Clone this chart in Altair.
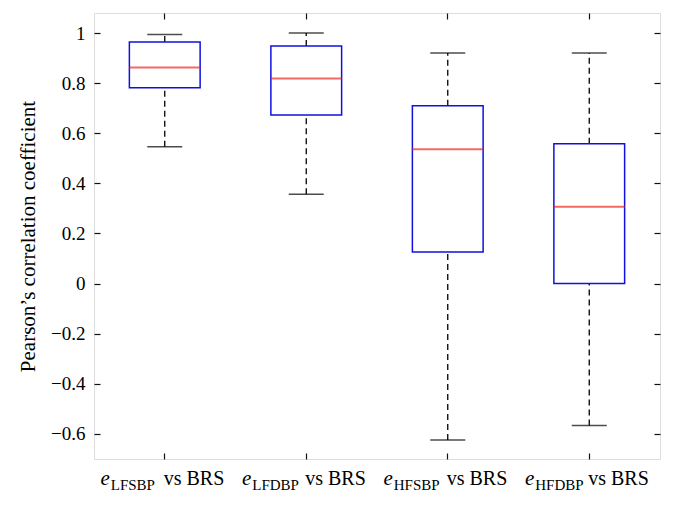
import altair as alt
import pandas as pd

# ---- data ----
categories = ["LFSBP", "LFDBP", "HFSBP", "HFDBP"]
whisker_low = [0.546, 0.357, -0.624, -0.566]
q1 = [0.782, 0.673, 0.126, 0.0]
median = [0.862, 0.819, 0.536, 0.307]
q3 = [0.964, 0.948, 0.710, 0.558]
whisker_high = [0.994, 1.0, 0.920, 0.920]
y_ticks = [-0.6, -0.4, -0.2, 0, 0.2, 0.4, 0.6, 0.8, 1]

df = pd.DataFrame({
    "cat": categories,
    "lo": whisker_low,
    "q1": q1,
    "med": median,
    "q3": q3,
    "hi": whisker_high,
})

W, H = 566, 446
FONT = "Liberation Serif"
BLUE = "#1010e0"
RED = "#ee2a22"

xscale = alt.Scale(domain=categories, paddingInner=0.5, paddingOuter=0.25)
yscale = alt.Scale(domain=[-0.7, 1.08], nice=False, zero=False)

tick_style = dict(offset=-6, tickSize=6, domain=False, grid=False,
                  tickColor="#111111", tickWidth=1.2)

x_none = alt.X("cat:N", scale=xscale, axis=None)
x_bottom = alt.X("cat:N", scale=xscale,
                 axis=alt.Axis(orient="bottom", labels=False, title=None, **tick_style))
x_top = alt.X("cat:N", scale=xscale,
              axis=alt.Axis(orient="top", labels=False, title=None, **tick_style))

y_left_axis = alt.Axis(
    orient="left", values=y_ticks, format=".1~f",
    labelFont=FONT, labelFontSize=19, labelColor="black", labelPadding=9,
    title="Pearson’s correlation coefficient", titleFont=FONT, titleFontSize=21,
    titleFontWeight="normal", titleColor="black", titlePadding=12,
    **tick_style)
y_right_axis = alt.Axis(orient="right", values=y_ticks, labels=False, title=None,
                        **tick_style)

base = alt.Chart(df)

whisk_up = base.mark_rule(color="black", strokeWidth=1.3, strokeDash=[6, 4]).encode(
    x=x_none, y=alt.Y("q3:Q", scale=yscale, axis=None), y2="hi:Q")
whisk_dn = base.mark_rule(color="black", strokeWidth=1.3, strokeDash=[6, 4]).encode(
    x=x_none, y=alt.Y("lo:Q", scale=yscale, axis=None), y2="q1:Q")
cap_up = base.mark_tick(color="black", size=35, thickness=1.5).encode(
    x=x_none, y=alt.Y("hi:Q", scale=yscale, axis=None))
cap_dn = base.mark_tick(color="black", size=35, thickness=1.5).encode(
    x=x_none, y=alt.Y("lo:Q", scale=yscale, axis=None))
box = base.mark_bar(fill="white", stroke=BLUE, strokeWidth=1.5).encode(
    x=x_bottom, y=alt.Y("q1:Q", scale=yscale, axis=y_left_axis), y2="q3:Q")
med = base.mark_tick(color=RED, size=71, thickness=2).encode(
    x=x_top, y=alt.Y("med:Q", scale=yscale, axis=y_right_axis))

lab_e = base.mark_text(text="e", font=FONT, fontStyle="italic", fontSize=21,
                       align="right", baseline="alphabetic", dx=-55, dy=26,
                       color="black").encode(x=x_none, y=alt.value(H))
lab_sub = base.mark_text(font=FONT, fontSize=15, align="left", baseline="alphabetic",
                         dx=-54, dy=31, color="black").encode(
    x=x_none, y=alt.value(H), text="cat:N")
lab_vs = base.mark_text(text="vs BRS", font=FONT, fontSize=20, align="left",
                        baseline="alphabetic", dx=-1, dy=26, color="black").encode(
    x=x_none, y=alt.value(H))

chart = alt.layer(
    whisk_up, whisk_dn, cap_up, cap_dn, box, med, lab_e, lab_sub, lab_vs
).resolve_axis(x="independent", y="independent").properties(
    width=W, height=H,
    padding={"left": 86, "top": 5, "right": 6, "bottom": 42},
    autosize=alt.AutoSizeParams(type="none"),
).configure_view(stroke="#111111", strokeWidth=1.3).configure_axis(
    labelFont=FONT, titleFont=FONT
).configure(background="white")

chart.save("out.html", embed_options={"renderer": "svg", "actions": False})
